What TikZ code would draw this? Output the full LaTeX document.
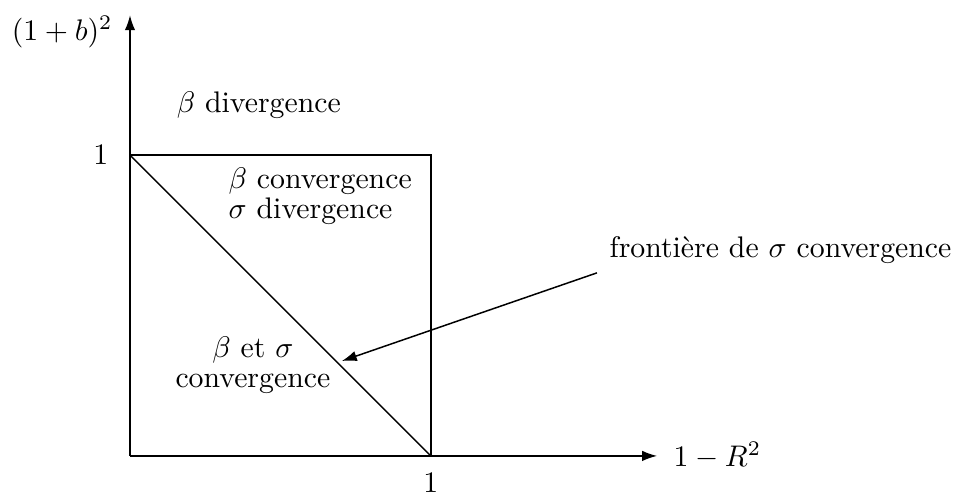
\documentclass[tikz,border=0pt]{standalone}
\usepackage{tikz}
\usetikzlibrary{arrows.meta,positioning}
\usepackage{amsmath}
\tikzset{
  axis/.style   ={-{Latex[length=5pt,width=3.5pt]},line width=0.5pt},
  frame/.style  ={line width=0.5pt},
  region/.style ={align=center,font=\normalsize},
  tick/.style   ={inner sep=2pt},
  arr/.style    ={-{Latex[length=5pt,width=3.5pt]},line width=0.5pt}
}

\begin{document}
\begin{tikzpicture}
  \useasboundingbox (-1.534,-0.472) rectangle (9.723,5.38);
  % Axes
  \coordinate (origin) at (0,0);
  \coordinate (xend)   at (6.22,0);
  \coordinate (yend)   at (0,5.20);
  \draw [axis] (origin) -- (xend);
  \draw [axis] (origin) -- (yend);
  \node (xlabel) [right=2pt of xend]        {$1-R^2$};
  \node (ylabel) at (-0.80,5.00)            {$(1+b)^2$};

  % Square
  \coordinate (xone) at (3.55,0);
  \coordinate (yone) at (0,3.55);
  \coordinate (corner) at (3.55,3.55);
  \draw [frame] (yone) -- (corner) -- (xone);
  \draw [frame] (yone) -- (xone);
  \node (xtick) [tick] at (3.55,-0.32)  {$1$};
  \node (ytick) [tick,left=0.18cm of yone] {$1$};

  % Nodes
  \node (bdiv)  [region] at (1.52,4.14) {$\beta$ divergence};
  \node (bconv) [region,anchor=west,align=left] at (1.04,3.06)
        {$\beta$ convergence\\[-2pt]$\sigma$ divergence};
  \node (both)  [region] at (1.45,1.07)  {$\beta$ et $\sigma$\\[-2pt]convergence};
  \node (front) [region,anchor=east,inner sep=0pt] at (9.70,2.43)
        {fronti\`ere de $\sigma$ convergence};

  % Arrows
  \coordinate (fstart) at (5.51,2.16);
  \coordinate (ftip)   at (2.50,1.12);
  \draw [arr] (fstart) -- (ftip);
\end{tikzpicture}
\end{document}
